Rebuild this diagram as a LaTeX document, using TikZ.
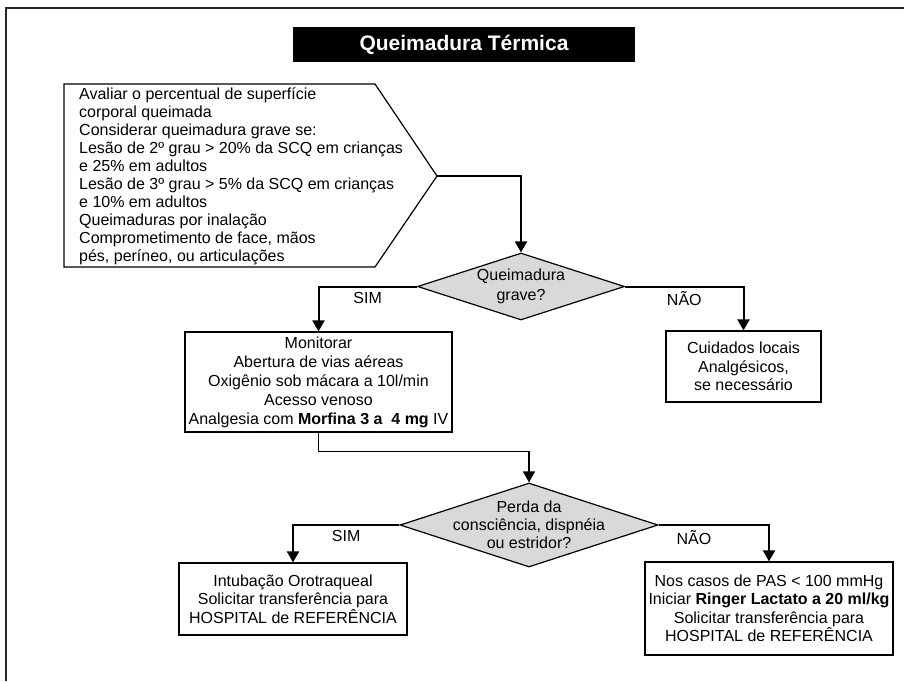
\documentclass[tikz,border=0pt]{standalone}
\usepackage{fontspec}
\setmainfont{Liberation Sans}
\usetikzlibrary{arrows.meta}
\usetikzlibrary{shapes.geometric}

\begin{document}
\begin{tikzpicture}[x=1pt, y=-1pt]
	\tikzset{box/.style = {shape=rectangle, draw, line width=1.2pt, align=center, inner sep=0pt, font=\fontsize{16}{18.5}\selectfont}}
	\tikzset{decision/.style = {shape=diamond, draw, line width=1.2pt, fill=black!15, inner sep=0pt}}
	\tikzset{edge/.style = {-{Triangle[width=12pt, length=11pt]}, line width=2pt}}
	\tikzset{answer/.style = {below, yshift=-1pt, font=\fontsize{16}{18.5}\selectfont}}
	\useasboundingbox (0,0) rectangle (904,681);
	% frame
	\draw[line width=1.5pt, black!85] (6,681) -- (6,8) -- (904,8);
	% title
	\node[fill=black, minimum width=342pt, minimum height=35pt, inner sep=0pt, text=white, font=\fontsize{21}{21}\selectfont\bfseries] (title) at (464,44.5) {Queimadura Térmica};
	% criteria
	\draw[line width=1.2pt] (64,84) -- (375,84) -- (437,176) -- (375,267) -- (64,267) -- cycle;
	\coordinate (tip) at (437,176);
	\node[anchor=west, align=left, inner sep=0pt, font=\fontsize{16}{18}\selectfont] (crit) at (79,176) {Avaliar o percentual de superfície\\corporal queimada\\Considerar queimadura grave se:\\Lesão de 2º grau > 20\% da SCQ em crianças\\e 25\% em adultos\\Lesão de 3º grau > 5\% da SCQ em crianças\\e 10\% em adultos\\Queimaduras por inalação\\Comprometimento de face, mãos\\pés, períneo, ou articulações};
	% decisions
	\node[decision, minimum width=207pt, minimum height=67pt, label={[align=center, font=\fontsize{16}{20}\selectfont]center:Queimadura\\grave?}] (grave) at (521,286.5) {};
	\node[decision, minimum width=258pt, minimum height=84pt, label={[align=center, font=\fontsize{16}{18}\selectfont]center:Perda da\\consciência, dispnéia\\ou estridor?}] (consc) at (529,525) {};
	% actions
	\node[box, minimum width=267pt, minimum height=100pt, font=\fontsize{16}{19}\selectfont] (monitor) at (318.5,382) {Monitorar\\Abertura de vias aéreas\\Oxigênio sob mácara a 10l/min\\Acesso venoso\\Analgesia com \textbf{Morfina 3 a \ 4 mg} IV};
	\node[box, minimum width=155pt, minimum height=71pt] (local) at (743.5,366.5) {Cuidados locais\\Analgésicos,\\se necessário};
	\node[box, minimum width=228pt, minimum height=72pt] (intub) at (293,599) {Intubação Orotraqueal\\Solicitar transferência para\\HOSPITAL de REFERÊNCIA};
	\node[box, minimum width=248pt, minimum height=93pt] (ringer) at (769,608.5) {Nos casos de PAS < 100 mmHg\\Iniciar \textbf{Ringer Lactato a 20 ml/kg}\\Solicitar transferência para\\HOSPITAL de REFERÊNCIA};
	% edges
	\draw[edge] (tip) -| (grave.north);
	\draw[edge] (grave.west) -| (monitor.north) node[answer, pos=0.25] {SIM};
	\draw[edge] (grave.east) -| (local.north) node[answer, pos=0.25] {NÃO};
	\draw[edge, line width=1.2pt] (monitor.south) -- ++(0,19) -| (consc.north);
	\draw[edge] (consc.west) -| (intub.north) node[answer, pos=0.25] {SIM};
	\draw[edge] (consc.east) -| (ringer.north) node[answer, pos=0.16] {NÃO};
\end{tikzpicture}
\end{document}
